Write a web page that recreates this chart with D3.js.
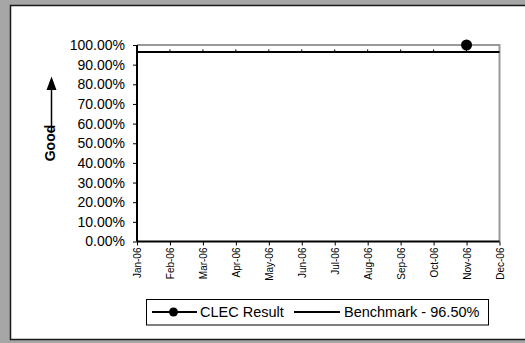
<!DOCTYPE html>
<html><head><meta charset="utf-8">
<script src="https://cdn.jsdelivr.net/npm/d3@7"></script>
<style>
html,body{margin:0;padding:0;background:#a6a6a6;}
svg{display:block;}
text{font-family:"Liberation Sans",Arial,sans-serif;fill:#000;}
</style></head>
<body><svg id="c" width="525" height="343"></svg>
<script>
const months = ["Jan-06","Feb-06","Mar-06","Apr-06","May-06","Jun-06","Jul-06","Aug-06","Sep-06","Oct-06","Nov-06","Dec-06"];
const clecMonths = ["Nov-06"];
const clecValues = [1.0];
const benchmarkValue = 0.965;
const yTicks = [0,0.1,0.2,0.3,0.4,0.5,0.6,0.7,0.8,0.9,1.0];
const legendLabels = ["CLEC Result","Benchmark - 96.50%"];

const svg = d3.select("#c");
// chart area
svg.append("rect").attr("x",10.5).attr("y",5.5).attr("width",530).attr("height",334)
  .attr("fill","#fff").attr("stroke","#1a1a1a").attr("stroke-width",1.5);

const L=137, R=499.5, T=45, B=241.5;
const x = d3.scalePoint().domain(months).range([L,R]);
const y = d3.scaleLinear().domain([0,1]).range([B,T]);

// plot border (gray top/right)
svg.append("path").attr("d",`M${L},${T}H${R}V${B}`).attr("fill","none")
  .attr("stroke","#999").attr("stroke-width",2);

// benchmark line
svg.append("line").attr("x1",x(months[0])).attr("x2",x(months[months.length-1]))
  .attr("y1",y(benchmarkValue)).attr("y2",y(benchmarkValue))
  .attr("stroke","#000").attr("stroke-width",2);
svg.append("g").selectAll("line").data(months.slice(1,-1)).join("line")
  .attr("x1",d=>x(d)).attr("x2",d=>x(d))
  .attr("y1",y(benchmarkValue)-2.5).attr("y2",y(benchmarkValue))
  .attr("stroke","#000").attr("stroke-width",1);

// y axis
const yAxis = d3.axisLeft(y).tickValues(yTicks).tickFormat(d3.format(".2%")).tickSize(4).tickPadding(8);
const gy = svg.append("g").attr("transform",`translate(${L},0)`).call(yAxis);
gy.select(".domain").attr("stroke","#000").attr("stroke-width",2).attr("d",`M0,${T}V${B}`);
gy.selectAll(".tick line").attr("stroke","#000");
gy.selectAll("text").attr("font-size","14px").attr("font-family","Liberation Sans, Arial, sans-serif").attr("fill","#000");

// x axis
const xAxis = d3.axisBottom(x).tickSize(4).tickPadding(5);
const gx = svg.append("g").attr("transform",`translate(0,${B})`).call(xAxis);
gx.select(".domain").attr("stroke","#000").attr("stroke-width",2).attr("d",`M${L},0H${R}`);
gx.selectAll(".tick line").attr("stroke","#000");
gx.selectAll("text").attr("font-size","10px").attr("font-family","Liberation Sans, Arial, sans-serif").attr("fill","#000")
  .attr("text-anchor","end").attr("transform","rotate(-90)")
  .attr("x",-6).attr("y",0).attr("dy","0.35em");

// CLEC points
svg.append("g").selectAll("circle").data(clecMonths.map((m,i)=>({m,v:clecValues[i]}))).join("circle")
  .attr("cx",d=>x(d.m)).attr("cy",d=>y(d.v)).attr("r",5.5).attr("fill","#000");

// Good label and arrow
svg.append("text").attr("transform","translate(55,143) rotate(-90)").attr("text-anchor","middle")
  .attr("font-size","14px").attr("font-weight","bold").text("Good");
svg.append("line").attr("x1",51.5).attr("x2",51.5).attr("y1",133).attr("y2",88).attr("stroke","#000").attr("stroke-width",1.5);
svg.append("path").attr("d","M46.5,90L56.5,90L51.5,76.5Z").attr("fill","#000");

// legend
svg.append("rect").attr("x",146.5).attr("y",299.5).attr("width",342).attr("height",25.5)
  .attr("fill","#fff").attr("stroke","#000").attr("stroke-width",1);
const ly = 312;
svg.append("line").attr("x1",152).attr("x2",197).attr("y1",ly).attr("y2",ly).attr("stroke","#000").attr("stroke-width",2);
svg.append("circle").attr("cx",173.5).attr("cy",ly).attr("r",4.5).attr("fill","#000");
svg.append("text").attr("x",200).attr("y",ly+5).attr("font-size","14.5px").text(legendLabels[0]);
svg.append("line").attr("x1",294).attr("x2",340).attr("y1",ly).attr("y2",ly).attr("stroke","#000").attr("stroke-width",2);
svg.append("text").attr("x",344).attr("y",ly+5).attr("font-size","14.5px").text(legendLabels[1]);
</script></body></html>
